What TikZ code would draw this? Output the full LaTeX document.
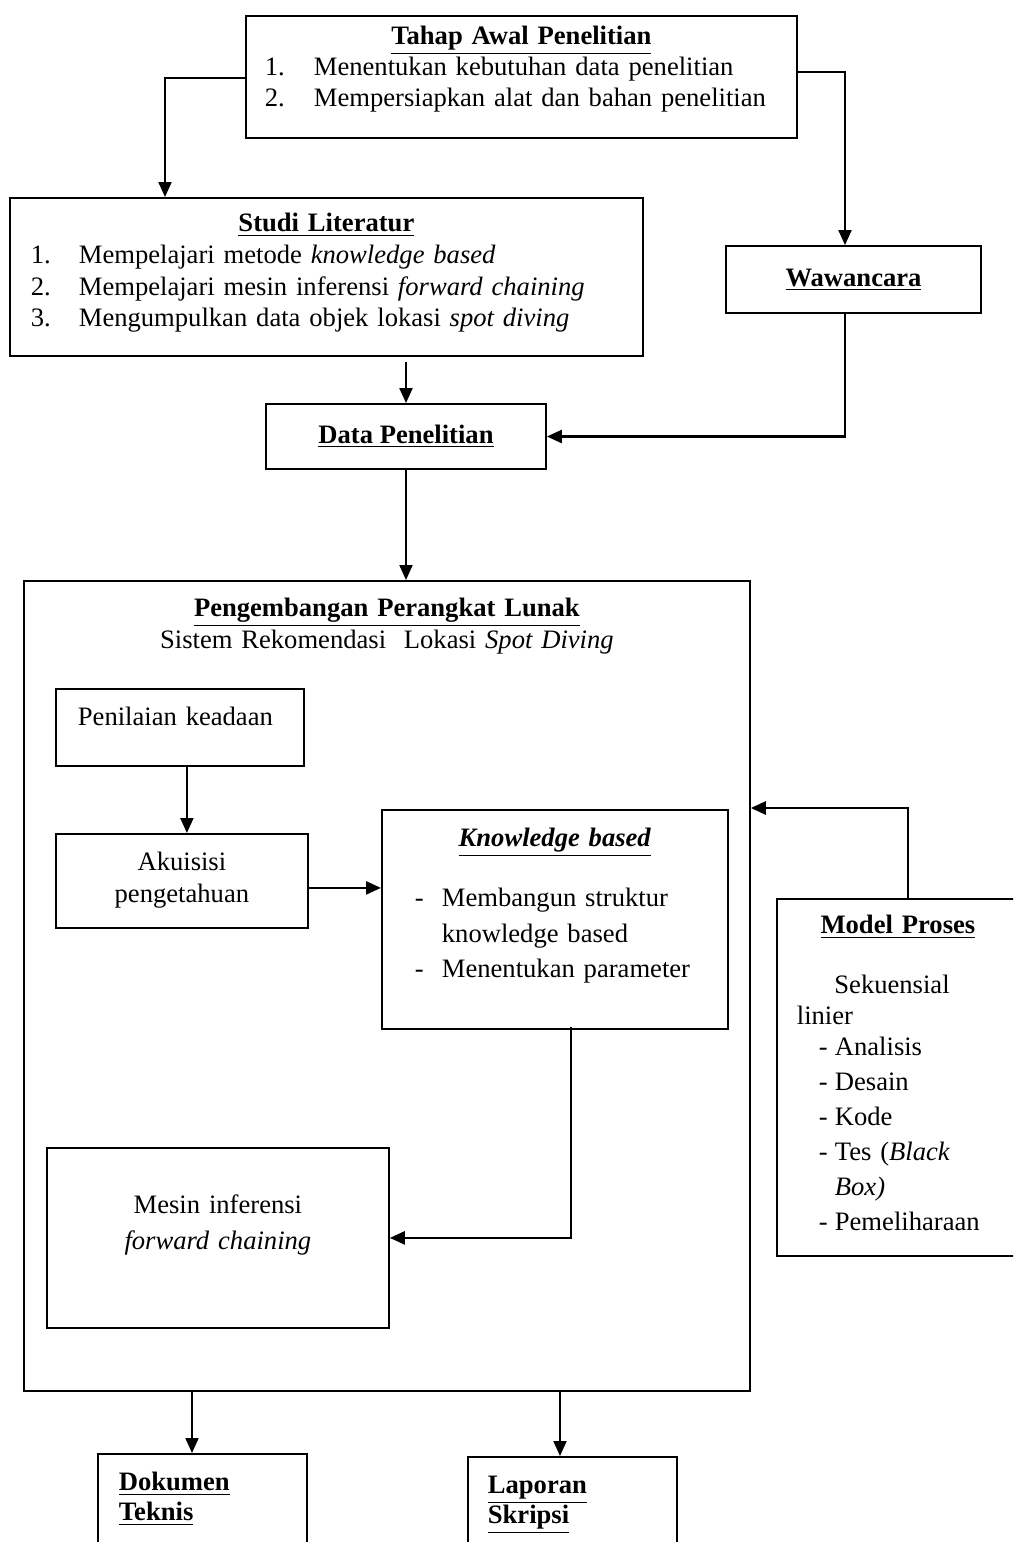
\documentclass[tikz,border=0pt]{standalone}
\usepackage{fontspec}
\setmainfont{Liberation Serif}
\usepackage{tikz}
\usetikzlibrary{arrows.meta,positioning,calc}
\newcommand{\judul}[1]{\underline{\textbf{#1}}}
\newcommand{\tengah}[1]{\hfill#1\hfill\null}

\begin{document}
\begin{tikzpicture}[x=1pt,y=-1pt,
  box/.style={draw=black,line width=0.9pt,inner sep=0pt,font=\fontsize{13.3pt}{15.5pt}\selectfont},
  tbox/.style={box,anchor=north west,align=left},
  arr/.style={-{Triangle[length=7.5pt,width=6.5pt]},draw=black,line width=1pt}]
\useasboundingbox (0,0) rectangle (506.5,771);
\clip (0,0) rectangle (506.5,771);
% tahap awal, literatur, wawancara
\node[tbox,text width=256.5pt,inner xsep=9.5pt,text height=14.5pt,text depth=46.5pt] (tahap) at (122.5,7.5)
  {\tengah{\judul{Tahap Awal Penelitian}}\\
   \makebox[24.5pt][l]{1.}Menentukan kebutuhan data penelitian\\
   \makebox[24.5pt][l]{2.}Mempersiapkan alat dan bahan penelitian};
\node[tbox,text width=295.5pt,inner xsep=10.5pt,text height=17pt,text depth=62pt,font=\fontsize{13.3pt}{15.8pt}\selectfont] (studi) at (4.5,98.5)
  {\tengah{\judul{Studi Literatur}}\\
   \makebox[24pt][l]{1.}Mempelajari metode \textit{knowledge based}\\
   \makebox[24pt][l]{2.}Mempelajari mesin inferensi \textit{forward chaining}\\
   \makebox[24pt][l]{3.}Mengumpulkan data objek lokasi \textit{spot diving}};
\node[box,minimum width=127.5pt,minimum height=33.5pt] (waw) at (426.75,139.75) {\judul{Wawancara}};
\node[box,minimum width=140pt,minimum height=32.5pt] (data) at (203,218.25) {\judul{Data Penelitian}};
% pengembangan perangkat lunak
\node[tbox,text width=343pt,inner xsep=10pt,text height=18pt,text depth=387pt,font=\fontsize{13.3pt}{16pt}\selectfont] (pkl) at (11.5,290)
  {\tengah{\judul{Pengembangan Perangkat Lunak}}\\
   \tengah{Sistem Rekomendasi\ \ Lokasi \textit{Spot Diving}}};
\node[tbox,text width=102pt,inner xsep=11pt,text height=18.5pt,text depth=20pt] (nilai) at (27.5,344) {Penilaian keadaan};
\node[tbox,align=center,text width=116pt,inner xsep=5pt,text height=18.5pt,text depth=28.5pt,font=\fontsize{13.3pt}{16pt}\selectfont] (aku) at (27.5,416.5)
  {Akuisisi\\pengetahuan};
\node[tbox,text width=140pt,inner xsep=16.5pt,text height=18.5pt,text depth=91pt,font=\fontsize{13.3pt}{17.75pt}\selectfont] (kb) at (190.5,404.5)
  {\tengah{\judul{\textit{Knowledge based}}}\\[12.25pt]
   \makebox[13.5pt][l]{-}Membangun struktur\\
   \hspace*{13.5pt}knowledge based\\
   \makebox[13.5pt][l]{-}Menentukan parameter};
\node[tbox,align=center,text width=161pt,inner xsep=5pt,text height=33pt,text depth=57pt,font=\fontsize{13.3pt}{18pt}\selectfont] (mesin) at (23,573.5)
  {Mesin inferensi\\\textit{forward chaining}};
% model proses
\node[tbox,text width=101pt,inner xsep=10pt,text height=17.5pt,text depth=161pt,font=\fontsize{13.3pt}{17.5pt}\selectfont] (model) at (388,449)
  {\tengah{\judul{Model Proses}}\\[12.5pt]
   \hspace*{18.75pt}Sekuensial\\[-2pt]
   linier\\[-2pt]
   \hspace*{11pt}\makebox[8pt][l]{-}Analisis\\
   \hspace*{11pt}\makebox[8pt][l]{-}Desain\\
   \hspace*{11pt}\makebox[8pt][l]{-}Kode\\
   \hspace*{11pt}\makebox[8pt][l]{-}Tes (\textit{Black}\\
   \hspace*{19pt}\textit{Box)}\\
   \hspace*{11pt}\makebox[8pt][l]{-}Pemeliharaan};
% keluaran
\node[tbox,text width=83.5pt,inner xsep=10.5pt,text height=18.5pt,text depth=60pt,font=\fontsize{13.3pt}{15pt}\selectfont] (dok) at (48.5,726.5)
  {\judul{Dokumen}\\\judul{Teknis}};
\node[tbox,text width=84.5pt,inner xsep=10pt,text height=18.5pt,text depth=60pt,font=\fontsize{13.3pt}{15pt}\selectfont] (lap) at (233.5,728)
  {\judul{Laporan}\\\judul{Skripsi}};
% panah
\coordinate (p1) at ($(nilai.south)+(3.5,0)$);
\coordinate (p2) at ($(aku.east)+(0,3.5)$);
\coordinate (p3) at ($(dok.north west)+(47.5,0)$);
\coordinate (p4) at ($(lap.north west)+(46.5,0)$);
\draw[arr] ([yshift=-31.5pt]tahap.north west) -| ($(studi.north west)+(78,0)$);
\draw[arr] ([yshift=-28.5pt]tahap.north east) -| ([xshift=-4.25pt]waw.north);
\draw[arr] ($(data.north |- studi.south)+(0,2.5)$) -- (data.north);
\draw[arr,line width=1.3pt] ([xshift=-4.25pt]waw.south) |- (data.east);
\draw[arr] (data.south) -- (data.south |- pkl.north);
\draw[arr] (p1) -- (p1 |- aku.north);
\draw[arr,line width=1.3pt] (p2) -- (p2 -| kb.west);
\draw[arr,line width=1.2pt] ($(kb.south)+(8,-1.5)$) |- (mesin.east);
\draw[arr,line width=1.3pt] ($(model.north)+(5,0)$) |- ($(pkl.north east)+(0,114)$);
\draw[arr] (p3 |- pkl.south) -- (p3);
\draw[arr] (p4 |- pkl.south) -- (p4);
\end{tikzpicture}
\end{document}
